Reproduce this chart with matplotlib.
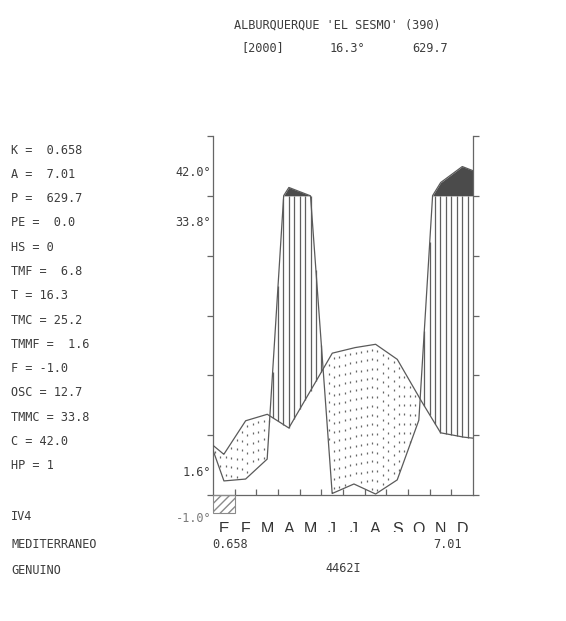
import numpy as np
import matplotlib
matplotlib.use('Agg')
import matplotlib.pyplot as plt
from matplotlib import font_manager
from matplotlib.patches import Rectangle
from matplotlib.transforms import Bbox, TransformedBbox, blended_transform_factory

# ---------------- data ----------------
months = ['E', 'F', 'M', 'A', 'M', 'J', 'J', 'A', 'S', 'O', 'N', 'D']
temp = [6.8, 12.4, 13.5, 11.2, 17.4, 23.7, 24.6, 25.2, 22.7, 16.4, 10.4, 9.7]   # °C
temp_edges = [8.3, 9.5]                                                        # left / right border
prec = [4.7, 5.3, 12.0, 128.0, 100.0, 0.5, 3.7, 0.3, 5.0, 25.0, 144.0, 198.0]  # mm
prec_edges = [15.0, 184.0]
frost_months = [0]

title = "ALBURQUERQUE 'EL SESMO' (390)"
subtitle = ["[2000]", "16.3°", "629.7"]
stat_names = ["K", "A", "P", "PE", "HS", "TMF", "T", "TMC", "TMMF", "F", "OSC", "TMMC", "C", "HP"]
stat_values = [" 0.658", " 7.01", " 629.7", " 0.0", "0", " 6.8", "16.3", "25.2", " 1.6", "-1.0",
               "12.7", "33.8", "42.0", "1"]
class_lines = ["IV4", "MEDITERRANEO", "GENUINO"]
axis_labels = ["42.0°", "33.8°", "1.6°", "-1.0°"]
bottom_left, bottom_right, bottom_code = "0.658", "7.01", "4462I"

# ---------------- fonts ----------------
names = {f.name for f in font_manager.fontManager.ttflist}
if 'Liberation Sans Narrow' in names:
    tfont, tsize = ['Liberation Sans Narrow', 'DejaVu Sans'], 11
else:
    tfont, tsize = ['DejaVu Sans Mono'], 8.6
sans = ['Liberation Sans', 'DejaVu Sans']
TC = '#3c3c3c'
LC = '#5a5a5a'

W, H = 566, 621
fig = plt.figure(figsize=(W / 100, H / 100), dpi=100, facecolor='white')


def ftext(x, y, s, **kw):
    kw.setdefault('family', tfont)
    kw.setdefault('size', tsize)
    kw.setdefault('color', TC)
    kw.setdefault('va', 'center')
    return fig.text(x / W, 1 - y / H, s, **kw)


ax = fig.add_axes([213 / W, 1 - 495 / H, 260 / W, 359 / H])
ax.set_xlim(0, 12)
ax.set_ylim(0, 60)
ax.set_facecolor('none')
for s in ['left', 'right', 'bottom']:
    ax.spines[s].set_color('#666666')
    ax.spines[s].set_linewidth(0.9)
ax.spines['top'].set_visible(False)
ax.set_yticks(np.arange(0, 61, 10))
ax.set_xticks(np.arange(1, 12))
ax.tick_params(axis='y', left=True, right=True, labelleft=False, labelright=False,
               direction='out', length=4, width=0.9, color='#666666')
ax.tick_params(axis='x', bottom=True, labelbottom=False, direction='in',
               length=4, width=0.9, color='#666666')

# ---------------- curves ----------------
xs = np.concatenate([[0], np.arange(12) + 0.5, [12]])
tv = np.array([temp_edges[0]] + temp + [temp_edges[1]])
pv = np.array([prec_edges[0]] + prec + [prec_edges[1]])


def pscale(p):
    p = np.asarray(p, float)
    return np.where(p <= 100, p / 2.0, 50 + (p - 100) / 20.0)


xf = np.linspace(0, 12, 4801)
Tf = np.interp(xf, xs, tv)
Pf = pscale(np.interp(xf, xs, pv))

# dark area (>100 mm)
ax.fill_between(xf, 50, np.maximum(Pf, 50), color='#4b4b4b', lw=0, zorder=2)

# humid period: vertical lines
xh = np.arange(1, 48) / 4.0
Th = np.interp(xh, xs, tv)
Ph = pscale(np.interp(xh, xs, pv))
m = Ph > Th
ax.vlines(xh[m], Th[m], np.minimum(Ph[m], 50), colors='#5f5f5f', lw=0.9, zorder=2)

# dry period: dots
dx, dy = [], []
for xc in (np.arange(48) + 0.35) / 4.0:
    t = np.interp(xc, xs, tv)
    p = float(pscale(np.interp(xc, xs, pv)))
    yy = t - 0.9
    while yy > p + 0.4:
        dx.append(xc)
        dy.append(yy)
        yy -= 1.55
ax.plot(dx, dy, '|', ms=1.6, mew=0.9, color='#666666', zorder=2)

ax.plot(xf, Tf, color=LC, lw=0.9, zorder=3)
ax.plot(xf, Pf, color=LC, lw=0.9, zorder=3)

# frost box
for fm in frost_months:
    ax.add_patch(Rectangle((fm, -3.0), 1, 3.0, clip_on=False, facecolor='none',
                           edgecolor='#8a8a8a', hatch='////', lw=0.8, zorder=3))

# month labels (clipped at the bottom as in the original)
clip = TransformedBbox(Bbox([[0, 1 - 531.5 / H], [1, 1]]), fig.transFigure)
trans = blended_transform_factory(ax.transData, fig.transFigure)
for i, mo in enumerate(months):
    t = ax.text(i + 0.5, 1 - 534.5 / H, mo, transform=trans, ha='center', va='baseline',
                family=sans, size=11.5, color='#333333', clip_on=True)
    t.set_clip_box(clip)

# ---------------- texts ----------------
ftext(337, 25, title, ha='center')
ftext(241, 48, subtitle[0], ha='left')
ftext(330, 48, subtitle[1], ha='left')
ftext(412, 48, subtitle[2], ha='left')

for i, (n, v) in enumerate(zip(stat_names, stat_values)):
    ftext(11, 150 + i * 24.3, f"{n} = {v}", ha='left')
for y, s in zip([516, 545, 570], class_lines):
    ftext(11, y, s, ha='left')

ftext(211, 173, axis_labels[0], ha='right')
ftext(211, 222, axis_labels[1], ha='right')
ftext(211, 472, axis_labels[2], ha='right')
ftext(211, 518, axis_labels[3], ha='right', color='#7a7a7a')

ftext(212, 545, bottom_left, ha='left')
ftext(462, 545, bottom_right, ha='right')
ftext(343, 569, bottom_code, ha='center')

fig.savefig('out.png', dpi=100, facecolor='white')
